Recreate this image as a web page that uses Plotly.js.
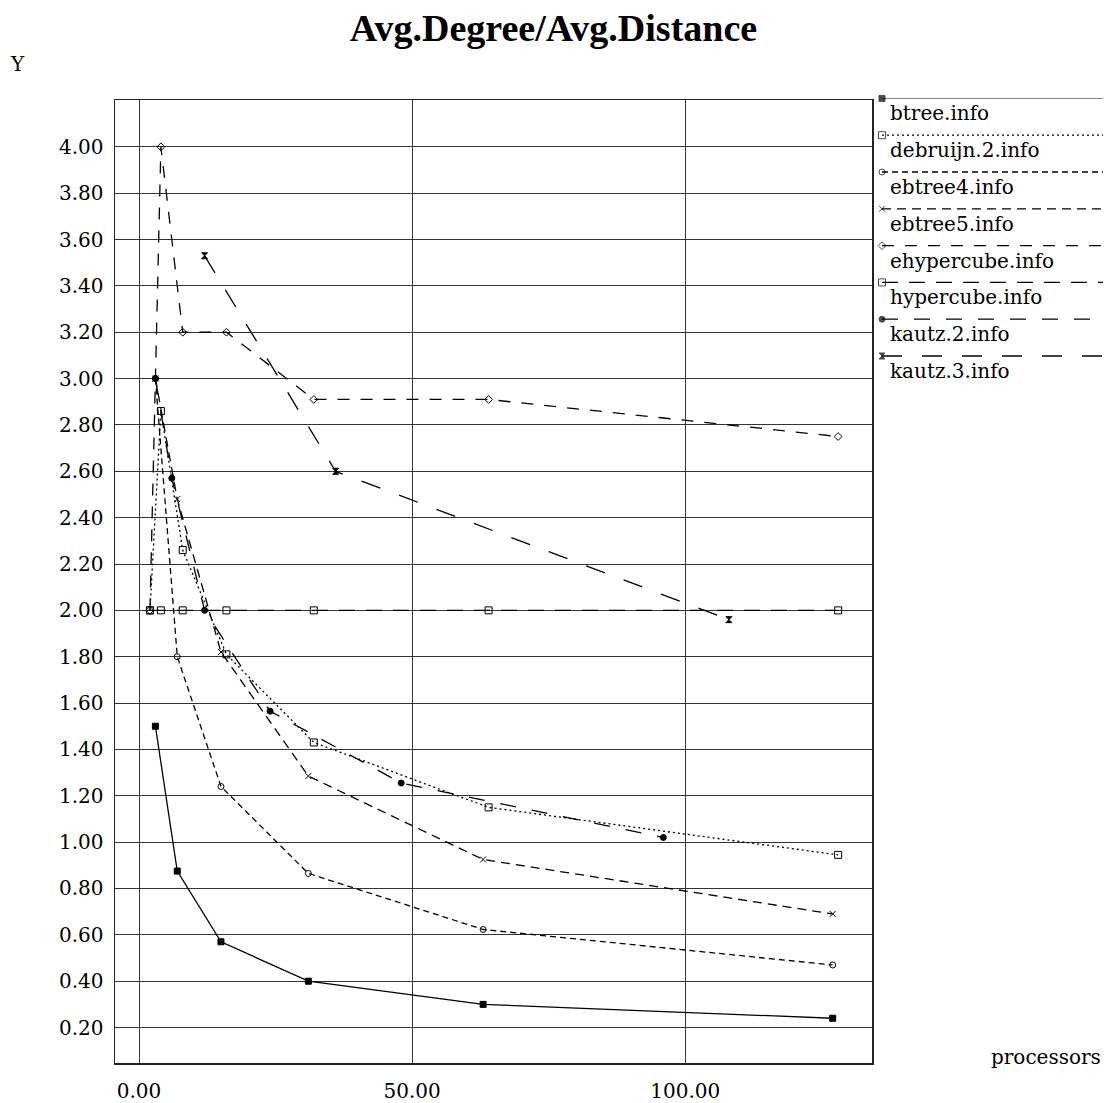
<!DOCTYPE html>
<html>
<head>
<meta charset="utf-8">
<script src="https://cdn.plot.ly/plotly-3.0.1.min.js"></script>
<style>html,body{margin:0;padding:0;background:#fff}</style>
</head>
<body>
<div id="chart" style="width:1107px;height:1103px"></div>
<script>
// ---- data ----
const seriesNames = ["btree.info","debruijn.2.info","ebtree4.info","ebtree5.info","ehypercube.info","hypercube.info","kautz.2.info","kautz.3.info"];
const btreeX = [3,7,15,31,63,127];
const btreeY = [1.50,0.875,0.57,0.40,0.30,0.24];
const debruijnX = [2,4,8,16,32,64,128];
const debruijnY = [2.00,2.86,2.26,1.81,1.43,1.15,0.945];
const ebtree4X = [3,7,15,31,63,127];
const ebtree4Y = [3.00,1.80,1.24,0.865,0.623,0.47];
const ebtree5X = [3,7,15,31,63,127];
const ebtree5Y = [3.00,2.48,1.82,1.285,0.925,0.69];
const ehypercubeX = [2,4,8,16,32,64,128];
const ehypercubeY = [2.00,4.00,3.20,3.20,2.91,2.91,2.75];
const hypercubeX = [2,4,8,16,32,64,128];
const hypercubeY = [2.00,2.00,2.00,2.00,2.00,2.00,2.00];
const kautz2X = [3,6,12,24,48,96];
const kautz2Y = [3.00,2.57,2.00,1.565,1.255,1.02];
const kautz3X = [12,36,108];
const kautz3Y = [3.53,2.60,1.96];
const xTickVals = [0,50,100];
const yTickVals = [0.2,0.4,0.6,0.8,1.0,1.2,1.4,1.6,1.8,2.0,2.2,2.4,2.6,2.8,3.0,3.2,3.4,3.6,3.8,4.0];
const titleText = "Avg.Degree/Avg.Distance";
const yLabel = "Y";
const xLabel = "processors";

// ---- styles ----
const FONT = "DejaVu Serif, serif";
const TITLEFONT = "Liberation Serif";
const FS = 20;
const styles = [
  {dash:"solid",        symbol:"square",       size:6},
  {dash:"2px,3px",      symbol:"square-open",  size:7},
  {dash:"6px,4px",      symbol:"circle-open",  size:6},
  {dash:"9px,6px",      symbol:"x-thin-open",  size:6},
  {dash:"12px,11px",    symbol:"diamond-open", size:6},
  {dash:"16px,11px",    symbol:"square-open",  size:7},
  {dash:"16px,16px",    symbol:"circle",       size:6},
  {dash:"20px,20px",    symbol:"hourglass",    size:6}
];
const xs = [btreeX,debruijnX,ebtree4X,ebtree5X,ehypercubeX,hypercubeX,kautz2X,kautz3X];
const ys = [btreeY,debruijnY,ebtree4Y,ebtree5Y,ehypercubeY,hypercubeY,kautz2Y,kautz3Y];

const traces = [];
xs.forEach((x,i)=>{
  traces.push({
    x:x, y:ys[i], type:"scatter", mode:"lines+markers", name:seriesNames[i],
    line:{color:"#000", width:1.3, dash:styles[i].dash},
    marker:{symbol:styles[i].symbol, size:styles[i].size, color:"#000", line:{color:"#000", width:1}},
    showlegend:false, cliponaxis:false
  });
});
// custom legend drawn on a second pair of axes
const annotations = [];
seriesNames.forEach((n,i)=>{
  traces.push({
    x:[0,1], y:[-i,-i], xaxis:"x2", yaxis:"y2", type:"scatter", mode:"lines+markers",
    line:{color:"#000", width:1.3, dash:styles[i].dash},
    marker:{symbol:styles[i].symbol, size:[styles[i].size,0], color:"#000", line:{color:"#000", width:1}},
    showlegend:false, cliponaxis:false, hoverinfo:"skip"
  });
  annotations.push({xref:"x2", yref:"y2", x:0.027, y:-i-0.41, text:n, showarrow:false,
    xanchor:"left", yanchor:"middle", font:{family:FONT, size:FS, color:"#000"}});
});
annotations.push({xref:"paper", yref:"paper", x:17.5/1107, y:1-64.5/1103, text:yLabel, showarrow:false,
  xanchor:"center", yanchor:"middle", font:{family:FONT, size:FS, color:"#000"}});
annotations.push({xref:"paper", yref:"paper", x:1103/1107, y:46/1103, text:xLabel, showarrow:false,
  xanchor:"right", yanchor:"middle", font:{family:FONT, size:FS, color:"#000"}});

const layout = {
  width:1107, height:1103,
  margin:{l:0, r:0, t:0, b:0},
  paper_bgcolor:"#fff", plot_bgcolor:"#fff",
  font:{family:FONT, size:FS, color:"#000"},
  title:{text:"<b>"+titleText+"</b>", font:{family:TITLEFONT, size:38, color:"#000"},
         x:0.5, xref:"paper", y:1-28/1103, yref:"paper", xanchor:"center", yanchor:"middle"},
  xaxis:{domain:[115/1107, 872/1107], range:[-4.4,134.2], tickvals:xTickVals, tickformat:".2f",
         showgrid:true, gridcolor:"#333", gridwidth:1, zeroline:false,
         showline:true, mirror:true, linecolor:"#222", linewidth:1.5,
         ticks:"outside", ticklen:9, tickcolor:"rgba(0,0,0,0)", automargin:false,
         tickfont:{family:FONT, size:FS, color:"#000"}},
  yaxis:{domain:[40/1103, 1003/1103], range:[0.047,4.202], tickvals:yTickVals, tickformat:".2f",
         showgrid:true, gridcolor:"#333", gridwidth:1, zeroline:false,
         showline:true, mirror:true, linecolor:"#222", linewidth:1.5,
         ticks:"outside", ticklen:6, tickcolor:"rgba(0,0,0,0)", automargin:false,
         tickfont:{family:FONT, size:FS, color:"#000"}},
  xaxis2:{domain:[882/1107, 1103/1107], range:[0,1], anchor:"y2", visible:false, fixedrange:true},
  yaxis2:{domain:[(1103-392.8)/1103, (1103-98.4)/1103], range:[-8,0], anchor:"x2", visible:false, fixedrange:true},
  annotations:annotations,
  showlegend:false
};
Plotly.newPlot("chart", traces, layout, {displayModeBar:false, staticPlot:true});
</script>
</body>
</html>
